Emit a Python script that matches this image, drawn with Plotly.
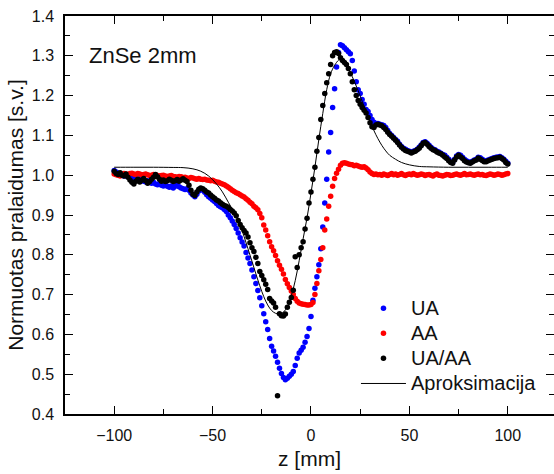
import plotly.graph_objects as go

# ---------------- data ----------------
z = list(range(-100, 101))

ua = [
    1.012, 1.008, 1.005, 1.003, 1.000, 0.998, 0.999, 0.996, 0.993, 0.995,
    0.992, 0.990, 0.988, 0.991, 0.987, 0.985, 0.983, 0.986, 0.984, 0.980,
    0.982, 0.978, 0.976, 0.979, 0.975, 0.973, 0.976, 0.972, 0.970, 0.973,
    0.968, 0.972, 0.975, 0.971, 0.968, 0.966, 0.964, 0.966, 0.962, 0.955,
    0.950, 0.946, 0.952, 0.960, 0.966, 0.962, 0.957, 0.951, 0.946, 0.942,
    0.938, 0.934, 0.929, 0.924, 0.921, 0.918, 0.914, 0.909, 0.900, 0.893,
    0.885, 0.876, 0.866, 0.855, 0.843, 0.832, 0.822, 0.806, 0.792, 0.778,
    0.762, 0.745, 0.728, 0.710, 0.692, 0.672, 0.652, 0.632, 0.612, 0.590,
    0.570, 0.558, 0.545, 0.530, 0.515, 0.502, 0.492, 0.486, 0.490, 0.495,
    0.500, 0.507, 0.522, 0.540, 0.553, 0.560, 0.568, 0.580, 0.595, 0.615,
    0.645, 0.686, 0.716, 0.745, 0.775, 0.815, 0.870, 0.930, 0.990, 1.058,
    1.107, 1.170, 1.217, 1.272, 1.308, 1.328, 1.325, 1.320, 1.315, 1.310,
    1.305, 1.288, 1.262, 1.235, 1.215, 1.205, 1.190, 1.178, 1.165, 1.160,
    1.150, 1.140, 1.133, 1.130, 1.130, 1.128, 1.127, 1.125, 1.120, 1.112,
    1.105, 1.100, 1.095, 1.090, 1.085, 1.078, 1.072, 1.068, 1.065, 1.062,
    1.060, 1.058, 1.060, 1.062, 1.065, 1.070, 1.076, 1.082, 1.084, 1.080,
    1.075, 1.070, 1.066, 1.064, 1.060, 1.058, 1.055, 1.052, 1.050, 1.045,
    1.040, 1.035, 1.032, 1.040, 1.048, 1.052, 1.050, 1.045, 1.040, 1.036,
    1.034, 1.032, 1.035, 1.038, 1.040, 1.045, 1.044, 1.040, 1.037, 1.036,
    1.038, 1.040, 1.042, 1.044, 1.045, 1.046, 1.047, 1.044, 1.040, 1.035,
    1.030,
]

aa = [
    1.003, 1.001, 1.000, 0.998, 1.002, 1.004, 1.003, 1.001, 1.004, 1.005,
    1.003, 1.002, 1.004, 1.003, 1.001, 1.002, 1.003, 1.001, 0.999, 1.000,
    1.002, 1.001, 0.999, 0.998, 0.999, 1.000, 0.998, 0.997, 0.998, 0.999,
    0.997, 0.996, 0.995, 0.997, 0.996, 0.994, 0.995, 0.993, 0.992, 0.994,
    0.993, 0.991, 0.990, 0.992, 0.990, 0.989, 0.990, 0.988, 0.987, 0.986,
    0.987, 0.985, 0.983, 0.982, 0.980, 0.978, 0.976, 0.973, 0.970, 0.966,
    0.962, 0.959, 0.956, 0.954, 0.951, 0.948, 0.945, 0.941, 0.937, 0.932,
    0.928, 0.922, 0.918, 0.913, 0.904, 0.893, 0.875, 0.862, 0.848, 0.833,
    0.820, 0.810, 0.798, 0.785, 0.774, 0.764, 0.752, 0.738, 0.727, 0.718,
    0.709, 0.700, 0.690, 0.683, 0.679, 0.677, 0.676, 0.675, 0.674, 0.674,
    0.675, 0.680, 0.700, 0.728, 0.760, 0.788, 0.818, 0.862, 0.890, 0.922,
    0.947, 0.972, 0.992, 1.005, 1.015, 1.025, 1.030, 1.031, 1.030, 1.028,
    1.027, 1.026, 1.024, 1.025, 1.023, 1.021, 1.020, 1.021, 1.018, 1.014,
    1.008, 1.004, 1.002, 1.003, 1.001, 1.002, 1.000, 1.003, 1.001, 0.999,
    1.002, 1.004, 1.001, 1.003, 1.000, 1.002, 1.004, 1.001, 0.999, 1.002,
    1.003, 1.001, 1.004, 1.002, 1.000, 1.001, 1.003, 1.002, 0.999, 1.001,
    1.002, 1.000, 0.998, 1.001, 1.003, 1.000, 0.999, 0.998, 1.000, 1.002,
    1.001, 0.999, 1.000, 1.002, 1.003, 1.001, 1.000, 1.002, 1.004, 1.001,
    1.002, 1.003, 1.001, 1.000, 1.002, 1.003, 1.001, 1.002, 1.000, 0.999,
    1.001, 1.003, 1.002, 1.000, 1.001, 1.003, 1.002, 1.000, 1.001, 1.003,
    1.004,
]

ua_aa = [
    1.010, 1.004, 1.002, 1.006, 1.000, 0.998, 1.003, 0.995, 0.988, 0.982,
    0.978, 0.985, 0.990, 0.983, 0.987, 0.992, 0.986, 0.980, 0.984, 0.990,
    0.995, 1.002, 0.996, 0.990, 0.985, 0.988, 0.984, 0.986, 0.990, 0.987,
    0.984, 0.986, 0.989, 0.985, 0.988, 0.991, 0.987, 0.984, 0.975, 0.962,
    0.952, 0.949, 0.958, 0.965, 0.968, 0.966, 0.962, 0.958, 0.955, 0.950,
    0.946, 0.942, 0.938, 0.935, 0.931, 0.927, 0.924, 0.922, 0.919, 0.914,
    0.910, 0.905, 0.898, 0.886, 0.876, 0.868, 0.861, 0.855, 0.845, 0.830,
    0.818, 0.808, 0.794, 0.778, 0.758, 0.748, 0.737, 0.726, 0.713, 0.690,
    0.684, 0.679, 0.668, 0.446, 0.652, 0.647, 0.646, 0.651, 0.668, 0.681,
    0.693, 0.711, 0.795, 0.768, 0.800, 0.818, 0.833, 0.865, 0.892, 0.930,
    0.958, 0.990, 1.020, 1.060, 1.095, 1.140, 1.175, 1.205, 1.232, 1.255,
    1.278, 1.300, 1.308, 1.310, 1.306, 1.295, 1.288, 1.283, 1.278, 1.268,
    1.255, 1.235, 1.215, 1.200, 1.188, 1.178, 1.170, 1.163, 1.156, 1.145,
    1.132, 1.122, 1.120, 1.126, 1.128, 1.126, 1.124, 1.120, 1.115, 1.108,
    1.102, 1.098, 1.093, 1.088, 1.082, 1.076, 1.070, 1.066, 1.062, 1.060,
    1.058, 1.056, 1.058, 1.060, 1.064, 1.068, 1.074, 1.080, 1.082, 1.078,
    1.072, 1.068, 1.064, 1.062, 1.058, 1.056, 1.054, 1.050, 1.046, 1.042,
    1.036, 1.032, 1.030, 1.038, 1.046, 1.050, 1.046, 1.042, 1.036, 1.033,
    1.031, 1.030, 1.033, 1.036, 1.038, 1.043, 1.040, 1.037, 1.034, 1.034,
    1.036, 1.038, 1.040, 1.042, 1.043, 1.044, 1.045, 1.042, 1.038, 1.032,
    1.028,
]

fit_z = [-100, -90, -80, -70, -65, -60, -56, -52, -48, -45,
         -42, -40, -38, -36, -34, -32, -30, -28, -26, -24,
         -22, -20, -18, -16, -14, -12, -10, -8, -6, -4,
         -2, 0, 2, 4, 6, 8, 10, 12, 14, 15,
         16, 18, 20, 22, 24, 26, 28, 30, 32, 34,
         36, 38, 40, 43, 46, 50, 55, 60, 70, 80,
         90, 100]
fit_v = [1.020, 1.020, 1.020, 1.0195, 1.019, 1.016, 1.010, 0.998, 0.978, 0.958,
         0.932, 0.915, 0.898, 0.874, 0.846, 0.815, 0.784, 0.752, 0.722, 0.695,
         0.674, 0.660, 0.653, 0.651, 0.656, 0.670, 0.697, 0.735, 0.785, 0.840,
         0.893, 0.955, 1.020, 1.090, 1.155, 1.215, 1.255, 1.276, 1.289, 1.291,
         1.290, 1.277, 1.258, 1.236, 1.212, 1.186, 1.160, 1.135, 1.112, 1.092,
         1.075, 1.061, 1.050, 1.040, 1.032, 1.026, 1.022, 1.021, 1.020, 1.020,
         1.020, 1.020]

x_ticks = [-100, -50, 0, 50, 100]
x_minor = [-75, -25, 25, 75]
y_ticks = [0.4, 0.5, 0.6, 0.7, 0.8, 0.9, 1.0, 1.1, 1.2, 1.3, 1.4]
y_minor = [0.45, 0.55, 0.65, 0.75, 0.85, 0.95, 1.05, 1.15, 1.25, 1.35]
y_text = ["%.1f" % v for v in y_ticks]

FONT = "Liberation Sans, Arial, sans-serif"
LEG = "<span style='font-size:20px'>%s</span>"

fig = go.Figure()
fig.add_trace(go.Scatter(x=z, y=ua, mode="markers", name=LEG % "UA",
                         marker=dict(color="#0000ff", size=5.5)))
fig.add_trace(go.Scatter(x=z, y=aa, mode="markers", name=LEG % "AA",
                         marker=dict(color="#ff0000", size=5.5)))
fig.add_trace(go.Scatter(x=z, y=ua_aa, mode="markers", name=LEG % "UA/AA",
                         marker=dict(color="#000000", size=5.5)))
fig.add_trace(go.Scatter(x=fit_z, y=fit_v, mode="lines", name=LEG % "Aproksimacija",
                         yaxis="y2",
                         line=dict(color="#000000", width=1, shape="spline", smoothing=1.0)))

axis_common = dict(showgrid=False, zeroline=False, ticks="inside", ticklen=8,
                   tickwidth=1.3, tickcolor="#000", linecolor="#000", linewidth=1.5,
                   tickfont=dict(family=FONT, size=16, color="#111"))

fig.update_layout(
    width=554, height=474,
    margin=dict(l=65, r=0, t=16, b=60, pad=0),
    paper_bgcolor="white", plot_bgcolor="white",
    font=dict(family=FONT, color="#111"),
    xaxis=dict(range=[-125, 123.5], tickmode="array", tickvals=x_ticks,
               showline=True, mirror="ticks",
               minor=dict(tickmode="array", tickvals=x_minor, ticks="inside",
                          ticklen=5, tickwidth=1.3, tickcolor="#000"),
               ticklabelstandoff=6,
               title=dict(text="z [mm]", font=dict(family=FONT, size=21, color="#111"),
                          standoff=8),
               **axis_common),
    yaxis=dict(range=[0.4, 1.4], tickmode="array", tickvals=y_ticks, ticktext=y_text,
               showline=True, mirror=False,
               minor=dict(tickmode="array", tickvals=y_minor, ticks="inside",
                          ticklen=5, tickwidth=1.3, tickcolor="#000"),
               ticklabelstandoff=6,
               title=dict(text="Normuotas pralaidumas [s.v.]",
                          font=dict(family=FONT, size=21, color="#111"), standoff=2),
               **axis_common),
    yaxis2=dict(range=[0.4, 1.4], overlaying="y", side="right", anchor="x",
                tickmode="array", tickvals=y_ticks, showticklabels=False,
                showline=False, showgrid=False, zeroline=False,
                ticks="inside", ticklen=8, tickwidth=1.3, tickcolor="#000",
                minor=dict(tickmode="array", tickvals=y_minor, ticks="inside",
                           ticklen=5, tickwidth=1.3, tickcolor="#000")),
    legend=dict(x=0.595, y=0.31, xanchor="left", yanchor="top",
                bgcolor="rgba(0,0,0,0)", borderwidth=0,
                font=dict(family=FONT, size=17, color="#111"),
                itemwidth=45),
    showlegend=True,
    annotations=[dict(text="ZnSe 2mm", xref="paper", yref="paper",
                      x=0.046, y=0.902, xanchor="left", yanchor="middle",
                      showarrow=False,
                      font=dict(family=FONT, size=22, color="#111"))],
)

fig.write_html("out.html")
